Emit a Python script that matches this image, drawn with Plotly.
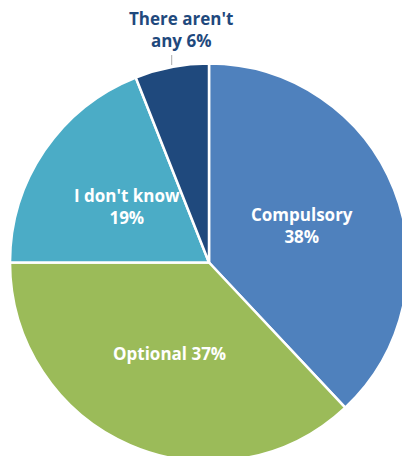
import math
import plotly.graph_objects as go

categories = ["Compulsory", "Optional", "I don't know", "There aren't any"]
values = [38, 37, 19, 6]
label_text = ["Compulsory<br>38%", "Optional 37%", "I don't know<br>19%", "There aren't<br>any 6%"]
colors = ["#4f81bd", "#9bbb59", "#4bacc6", "#1f497d"]
label_inside = [True, True, True, False]

W, H = 410, 462
ML, MR, MT, MB = 10, 2, 63, 0
pw, ph = W - ML - MR, H - MT - MB

fig = go.Figure(go.Pie(
    labels=categories,
    values=values,
    textinfo="none",
    sort=False,
    direction="clockwise",
    rotation=0,
    marker=dict(colors=colors, line=dict(color="white", width=2.5)),
    showlegend=False,
    hoverinfo="label+percent",
))

total = sum(values)
r_px = min(pw, ph) / 2
cum = 0
for val, txt, inside in zip(values, label_text, label_inside):
    mid = (cum + val / 2) / total * 2 * math.pi
    cum += val
    if inside:
        rr = 0.5 * r_px
        fig.add_annotation(xref="paper", yref="paper",
                           x=0.5 + rr * math.sin(mid) / pw,
                           y=0.5 + rr * math.cos(mid) / ph,
                           text=txt, showarrow=False,
                           xanchor="center", yanchor="middle",
                           font=dict(family="Open Sans", size=17, color="white", weight="bold"))
    else:
        ex = 0.5 + r_px * math.sin(mid) / pw
        ey = 0.5 + r_px * math.cos(mid) / ph
        fig.add_shape(type="line", xref="paper", yref="paper",
                      x0=ex, x1=ex, y0=ey + 2 / ph, y1=ey + 12 / ph,
                      line=dict(color="#aaaaaa", width=1))
        fig.add_annotation(xref="paper", yref="paper", x=ex + 9 / pw, y=ey + 13 / ph,
                           text=txt, showarrow=False,
                           xanchor="center", yanchor="bottom",
                           font=dict(family="Open Sans", size=17, color="#1f497d", weight="bold"))

fig.update_layout(
    width=W, height=H,
    margin=dict(l=ML, r=MR, t=MT, b=MB, pad=0),
    paper_bgcolor="white",
    plot_bgcolor="white",
)

fig.write_html(
    "out.html",
    config={"responsive": False},
    post_script="document.documentElement.style.overflow='hidden';document.body.style.overflow='hidden';document.body.style.margin='0';",
)
